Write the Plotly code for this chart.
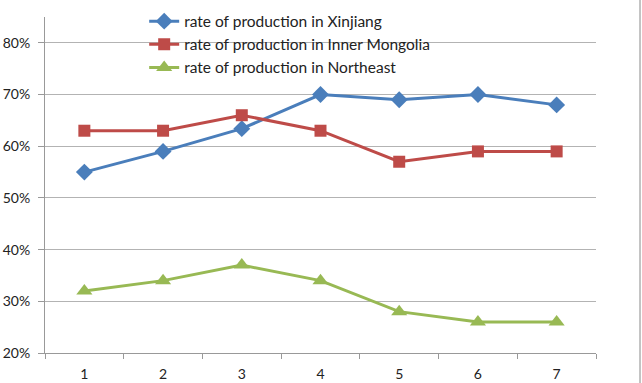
import plotly.graph_objects as go

categories = ["1", "2", "3", "4", "5", "6", "7"]
xinjiang = [0.55, 0.59, 0.634, 0.70, 0.69, 0.70, 0.68]
inner_mongolia = [0.63, 0.63, 0.66, 0.63, 0.57, 0.59, 0.59]
northeast = [0.32, 0.34, 0.37, 0.34, 0.28, 0.26, 0.26]
y_ticks = [0.2, 0.3, 0.4, 0.5, 0.6, 0.7, 0.8]
y_tick_labels = ["20%", "30%", "40%", "50%", "60%", "70%", "80%"]

FONT = "Lato"

fig = go.Figure()
fig.add_trace(go.Scatter(x=categories, y=xinjiang, mode="lines+markers",
                         name="rate of production in Xinjiang", legendgroup="a",
                         line=dict(color="#4A7EBB", width=3),
                         marker=dict(symbol="diamond", size=13, color="#4A7EBB")))
fig.add_trace(go.Scatter(x=categories, y=inner_mongolia, mode="lines+markers",
                         name="rate of production in Inner Mongolia", legendgroup="b",
                         line=dict(color="#BE4B48", width=3),
                         marker=dict(symbol="square", size=12, color="#BE4B48")))
fig.add_trace(go.Scatter(x=categories, y=northeast, mode="lines+markers",
                         name="rate of production in Northeast", legendgroup="c",
                         line=dict(color="#98B954", width=3),
                         marker=dict(symbol="triangle-up", size=14, color="#98B954")))

fig.update_layout(
    width=642, height=383,
    margin=dict(l=45, r=46, t=17, b=30, autoexpand=False),
    paper_bgcolor="white", plot_bgcolor="white",
    font=dict(family=FONT, size=14, color="#222"),
    showlegend=True,
    legend=dict(x=0.18, y=1.037, xanchor="left", yanchor="top",
                bgcolor="rgba(0,0,0,0)", font=dict(family=FONT, size=15.5, color="#222"),
                tracegroupgap=0, itemwidth=30),
    xaxis=dict(type="category", range=[-0.5, 6.5], tickson="boundaries",
               ticks="outside", ticklen=5, tickcolor="#999", showgrid=False,
               showline=True, linecolor="#999", linewidth=1, zeroline=False,
               automargin=False, ticklabelstandoff=8,
               tickfont=dict(family=FONT, size=14, color="#222")),
    yaxis=dict(range=[0.2, 0.85], tickvals=y_ticks, ticktext=y_tick_labels,
               ticks="outside", ticklen=6, tickcolor="#999", showgrid=True,
               gridcolor="#b3b3b3", gridwidth=1, showline=True, linecolor="#999",
               linewidth=1, zeroline=False, automargin=False, ticklabelstandoff=5,
               tickfont=dict(family=FONT, size=14, color="#222")),
    shapes=[dict(type="line", xref="paper", yref="paper",
                 x0=(640 - 45) / 551, x1=(640 - 45) / 551, y0=-0.2, y1=1.1,
                 line=dict(color="#888", width=1))],
)

fig.write_html("out.html", config={"displayModeBar": False},
               post_script="document.body.style.margin='0';")
